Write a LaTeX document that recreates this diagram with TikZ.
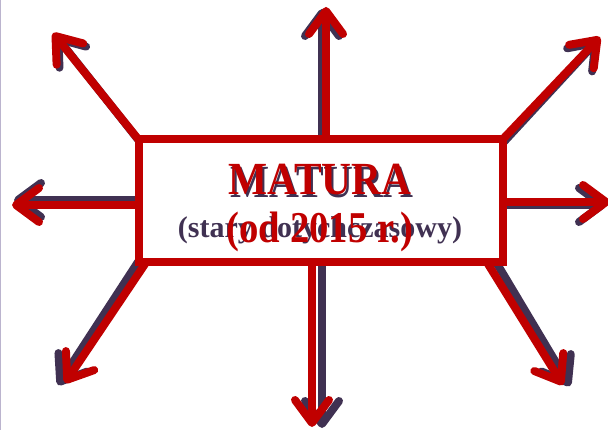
\documentclass[tikz,border=0pt]{standalone}
\usepackage{fontspec}
\setmainfont{Liberation Serif}
\usetikzlibrary{arrows.meta}
\definecolor{matred}{HTML}{C00000}
\definecolor{matdark}{HTML}{403152}
\definecolor{matlilac}{HTML}{BBB4CE}
\tikzset{
  ray/.style={line width=8pt,line cap=round,-{Straight Barb[length=23pt,width=34pt,round]}},
  frame/.style={fill=white,line width=8pt,minimum width=364pt,inner sep=0pt},
  big/.style={font=\bfseries\fontsize{46}{46}\selectfont,xscale=0.9,inner sep=0pt,anchor=base},
}
\begin{document}
\begin{tikzpicture}[x=1pt,y=-1pt]
\useasboundingbox (0,0) rectangle (608,430);
\draw[matlilac,line width=1pt] (0.5,0) -- (0.5,430);
% old (dark) version underneath
\foreach \n/\sx/\sy/\ex/\ey in {nw/140/142/56/36, n/322/146/322/9, ne/501/145/598/40, w/140/200/14/200,
  e/503/205/606/205, se/496/262/570/386, s/322/256/322/428, sw/138/262/58/385}{
  \coordinate (old\n a) at (\sx,\sy); \coordinate (old\n b) at (\ex,\ey);
  \draw[ray,matdark] (old\n a) -- (old\n b);
}
\node[frame,draw=matdark,minimum height=110pt] (oldbox) at (321,200.5) {};
% new (red) version on top
\foreach \n/\sx/\sy/\ex/\ey in {nw/138/139/53/33, n/326/139/326/7, ne/503/139/600/37, w/135/205/12/205,
  e/503/202/610/202, se/488/264/563/385, s/312/262/312/427, sw/145/264/65/383}{
  \coordinate (new\n a) at (\sx,\sy); \coordinate (new\n b) at (\ex,\ey);
  \draw[ray,matred] (new\n a) -- (new\n b);
}
\node[frame,draw=matred,minimum height=123pt] (newbox) at (321,200.5) {};
\node[big,text=matdark] (oldtitle) at (322,198) {MATURA};
\node[big,text=matred] (newtitle) at (320,195) {MATURA};
\node[font=\bfseries\fontsize{30}{30}\selectfont,text=matdark,inner sep=0pt,anchor=base] (oldsub) at (320,238) {(stary dotychczasowy)};
\node[font=\bfseries\fontsize{44}{44}\selectfont,xscale=0.88,text=matred,inner sep=0pt,anchor=base] (newsub) at (320,243) {(od 2015 r.)};
\end{tikzpicture}
\end{document}
